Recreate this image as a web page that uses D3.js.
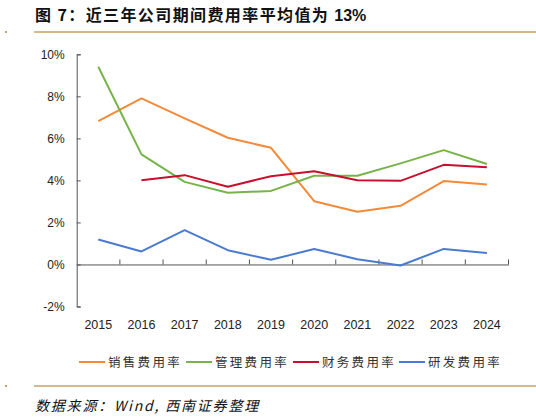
<!DOCTYPE html>
<html>
<head>
<meta charset="utf-8">
<script src="https://cdn.jsdelivr.net/npm/d3@7"></script>
<style>
  body { margin: 0; background: #fff; }
  svg { display: block; }
</style>
</head>
<body>
<div id="chart"></div>
<script>
var years = ['2015','2016','2017','2018','2019','2020','2021','2022','2023','2024'];
var sales = [6.82, 7.9, 6.95, 6.03, 5.55, 3.01, 2.51, 2.79, 3.97, 3.81];
var admin = [9.41, 5.24, 3.93, 3.41, 3.5, 4.22, 4.22, 4.81, 5.44, 4.78];
var finance = [null, 4.01, 4.25, 3.7, 4.2, 4.44, 4.01, 3.98, 4.74, 4.62];
var rnd = [1.19, 0.62, 1.63, 0.68, 0.22, 0.74, 0.25, -0.05, 0.74, 0.55];
var yTicks = [-2, 0, 2, 4, 6, 8, 10];

var series = [
  {name: '销售费用率', values: sales, color: '#f28a3a'},
  {name: '管理费用率', values: admin, color: '#77b34a'},
  {name: '财务费用率', values: finance, color: '#c8102e'},
  {name: '研发费用率', values: rnd, color: '#4a7bd0'}
];

var W = 536, H = 417;
var svg = d3.select('#chart').append('svg').attr('width', W).attr('height', H);
var font = "'Liberation Sans', Arial, sans-serif";
var cjk = "'Noto Sans CJK SC', sans-serif";

// title
var title = svg.append('text').attr('x', 35).attr('y', 21)
  .attr('font-family', cjk).attr('font-weight', 'bold').attr('font-size', 16)
  .attr('fill', '#111').attr('letter-spacing', 1.4);
title.append('tspan').text('图 7：近三年公司期间费用率平均值为 ');
title.append('tspan').attr('font-family', font).attr('letter-spacing', 0).text('13%');

var rule = '#c9a063';
[32, 386].forEach(function(y) {
  svg.append('line').attr('x1', 34).attr('x2', W).attr('y1', y).attr('y2', y)
    .attr('stroke', rule).attr('stroke-width', 1.5);
  svg.append('rect').attr('x', 5).attr('y', y - 1).attr('width', 2).attr('height', 2)
    .attr('fill', rule);
});

// scales
var x = d3.scaleBand().domain(years).range([76.7, 508.5]);
var y = d3.scaleLinear().domain([-2, 10]).range([306.5, 54.3]);

var g = svg.append('g');

// y axis
var yAxis = d3.axisRight(y).tickValues(yTicks).tickSize(4).tickFormat(function(d) { return d + '%'; });
var ya = g.append('g').attr('transform', 'translate(' + x.range()[0] + ',0)').call(yAxis);
ya.select('.domain').attr('stroke', '#555');
ya.selectAll('.tick line').attr('stroke', '#555');
ya.selectAll('.tick text').attr('x', -12).attr('text-anchor', 'end')
  .attr('font-family', font).attr('font-size', 12).attr('fill', '#222');

// x axis at zero
var xAxis = d3.axisTop(x).tickSize(0).tickFormat('');
var xa = g.append('g').attr('transform', 'translate(0,' + y(0) + ')').call(xAxis);
xa.select('.domain').attr('stroke', '#555');
var bounds = years.map(function(d) { return x(d) + x.bandwidth(); });
xa.selectAll('.sep').data(bounds).enter().append('line')
  .attr('x1', function(d) { return d; }).attr('x2', function(d) { return d; })
  .attr('y1', 0).attr('y2', -5).attr('stroke', '#555');

g.selectAll('.xlabel').data(years).enter().append('text')
  .attr('x', function(d) { return x(d) + x.bandwidth() / 2; })
  .attr('y', 329).attr('text-anchor', 'middle')
  .attr('font-family', font).attr('font-size', 12.5).attr('fill', '#222')
  .text(function(d) { return d; });

// lines
var line = d3.line()
  .defined(function(d) { return d != null; })
  .x(function(d, i) { return x(years[i]) + x.bandwidth() / 2; })
  .y(function(d) { return y(d); });

series.forEach(function(s) {
  g.append('path').datum(s.values)
    .attr('fill', 'none').attr('stroke', s.color).attr('stroke-width', 2)
    .attr('stroke-linejoin', 'round')
    .attr('d', line);
});

// legend
var legX = [79, 186, 293, 399];
var leg = svg.append('g');
series.forEach(function(s, i) {
  leg.append('line').attr('x1', legX[i]).attr('x2', legX[i] + 26)
    .attr('y1', 362).attr('y2', 362).attr('stroke', s.color).attr('stroke-width', 2);
  leg.append('text').attr('x', legX[i] + 29).attr('y', 367)
    .attr('font-family', cjk).attr('font-size', 12.5).attr('fill', '#333')
    .attr('letter-spacing', 2.3)
    .text(s.name);
});

// source
svg.append('text').attr('x', 35).attr('y', 411)
  .attr('font-family', cjk).attr('font-size', 14).attr('font-style', 'italic')
  .attr('fill', '#111').attr('letter-spacing', 1.8)
  .text('数据来源：Wind, 西南证券整理');
</script>
</body>
</html>
